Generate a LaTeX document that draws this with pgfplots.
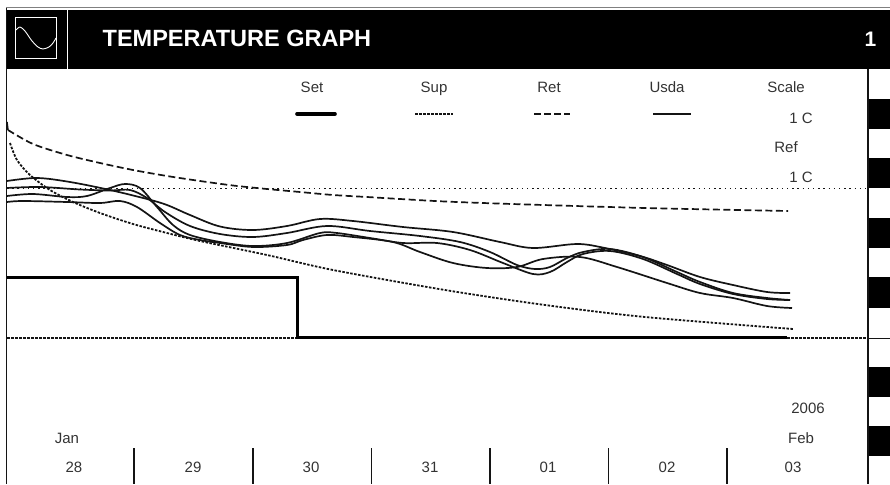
\documentclass[border=0pt]{standalone}
\usepackage{fontspec}
\setmainfont{Liberation Sans}
\usepackage{pgfplots}
\pgfplotsset{compat=1.18}
\definecolor{ink}{gray}{0.08}
\definecolor{txt}{gray}{0.2}
\newcommand{\lab}[3]{\node[text=txt,font=\fontsize{15}{17}\selectfont,anchor=base,inner sep=0pt] at (axis cs:#1,#2) {#3};}
\begin{document}
\begin{tikzpicture}
\path[use as bounding box] (0,0) rectangle (890pt,484pt);
\begin{axis}[
  at={(0,0)}, anchor=south west,
  scale only axis, width=890pt, height=484pt,
  xmin=0, xmax=890, ymin=0, ymax=484, y dir=reverse,
  enlargelimits=false, axis lines=none, ticks=none, clip=true]
% header
\addplot[fill=black,draw=none] coordinates {(7,10)(890,10)(890,69)(7,69)} --cycle;
\addplot[gray,line width=1pt] coordinates {(6,8)(890,8)};
% right stripes
\addplot[fill=black,draw=none] coordinates {(868,99)(890,99)(890,129)(868,129)} --cycle;
\addplot[fill=black,draw=none] coordinates {(868,158)(890,158)(890,188)(868,188)} --cycle;
\addplot[fill=black,draw=none] coordinates {(868,218)(890,218)(890,248)(868,248)} --cycle;
\addplot[fill=black,draw=none] coordinates {(868,277)(890,277)(890,308)(868,308)} --cycle;
\addplot[fill=black,draw=none] coordinates {(868,367)(890,367)(890,397)(868,397)} --cycle;
\addplot[fill=black,draw=none] coordinates {(868,426)(890,426)(890,456)(868,456)} --cycle;
\addplot[ink,line width=1.2pt] coordinates {(868,69)(868,484)};
\addplot[ink,line width=0.8pt] coordinates {(868,338)(890,338)};
% frame
\addplot[ink,line width=1.5pt] coordinates {(6.5,8)(6.5,484)};
% icon
\addplot[white,line width=1pt] coordinates {(15.5,18)(56.5,18)(56.5,58.5)(15.5,58.5)} --cycle;
\addplot[white,line width=1pt] coordinates {(67.5,10)(67.5,69)};
\addplot[white,line width=0.9pt,smooth] coordinates {(16,30)(20,27)(25,31)(32,41)(38,47)(43,49)(49,47)(53,43)(56,38)};
% reference lines
\addplot[ink,line width=1.3pt,dash pattern=on 1.3pt off 3.9pt] coordinates {(7,188.5)(868,188.5)};
\addplot[ink,line width=1.4pt,dash pattern=on 2.5pt off 1.5pt] coordinates {(7,338)(297,338)};
\addplot[ink,line width=1.4pt,dash pattern=on 2.5pt off 1.5pt] coordinates {(787,338)(868,338)};
% Set
\addplot[black,line width=3.2pt,line join=miter] coordinates {(7,277.5)(297.5,277.5)(297.5,337.5)(787,337.5)};
% Ret
\addplot[ink,line width=1.7pt,dash pattern=on 7pt off 3.5pt,smooth,tension=0.5] coordinates {(8,130)(33,144)(67,155)(100,163)(133,170)(167,176)(200,181)(233,185.5)(267,189)(300,192)(333,195)(367,197)(400,199)(445,201.5)(512,204)(645,208)(788,211)};
% Sup
\addplot[ink,line width=1.8pt,dash pattern=on 2.5pt off 1.5pt,smooth,tension=0.5] coordinates {(10,143)(17,160)(30,175)(50,190)(73,202)(100,213)(133,224)(167,233)(200,241)(267,255)(333,270)(445,290)(545,305)(645,317)(793,329)};
\addplot[ink,line width=1.5pt] coordinates {(7,122)(8,130)};
% Usda curves
\addplot[ink,line width=1.7pt,smooth,tension=0.55] coordinates {(7,181)(37,178)(70,182)(110,190)(147,199)(167,205)(190,215)(220,226.5)(253,230)(287,226)(320,219)(353,221)(403,227)(453,232)(500,242)(533,248)(577,244)(605,248)(640,256)(667,265)(700,277)(733,285)(767,292)(790,293)};
\addplot[ink,line width=1.7pt,smooth,tension=0.55] coordinates {(7,188)(40,187)(80,189.5)(110,190.5)(130,190)(147,198)(165,212)(190,226)(220,234)(253,237)(287,233)(327,226)(370,231)(420,236)(460,242)(490,252)(517,265)(535,269)(550,267)(567,258)(583,252)(610,249)(643,257)(677,272)(700,282)(733,293)(767,298)(790,300)};
\addplot[ink,line width=1.7pt,smooth,tension=0.55] coordinates {(7,196)(33,194)(67,197)(87,196)(110,188)(125,184)(140,188)(157,207)(173,225)(190,235)(220,242)(253,246)(287,243)(320,233)(337,233)(370,238)(403,243)(437,243)(470,250)(503,263)(533,274)(550,272)(567,262)(583,254)(610,251)(643,259)(677,274)(700,284)(733,294)(767,299)(790,300)};
\addplot[ink,line width=1.7pt,smooth,tension=0.55] coordinates {(7,202)(23,201)(67,202)(100,203)(120,201)(137,207)(160,223)(180,235)(200,240)(220,243)(253,247)(287,245)(303,240)(327,235)(353,237)(393,242)(420,252)(453,263)(487,268)(517,267)(543,259)(580,257)(617,267)(667,283)(700,293)(733,298)(767,306)(792,308)};
% legend samples
\addplot[black,line width=3.6pt,line cap=round] coordinates {(297,114)(335,114)};
\addplot[ink,line width=1.5pt,dash pattern=on 2.5pt off 1.5pt] coordinates {(415,114)(453,114)};
\addplot[ink,line width=1.5pt,dash pattern=on 7pt off 3pt] coordinates {(534,114)(570,114)};
\addplot[ink,line width=1.6pt] coordinates {(653,114)(691,114)};
% day separators
\addplot[ink,line width=1.3pt] coordinates {(134,448)(134,484)};
\addplot[ink,line width=1.3pt] coordinates {(253,448)(253,484)};
\addplot[ink,line width=1.3pt] coordinates {(371.5,448)(371.5,484)};
\addplot[ink,line width=1.3pt] coordinates {(490,448)(490,484)};
\addplot[ink,line width=1.3pt] coordinates {(608.5,448)(608.5,484)};
\addplot[ink,line width=1.3pt] coordinates {(727,448)(727,484)};
% text
\node[text=white,font=\fontsize{23.5}{26}\bfseries\selectfont,anchor=west,inner sep=0pt] at (axis cs:102.5,38) {TEMPERATURE GRAPH};
\node[text=white,font=\fontsize{21}{24}\bfseries\selectfont,anchor=center,inner sep=0pt] at (axis cs:870.5,39.5) {1};
\lab{312}{92.5}{Set}
\lab{434}{92.5}{Sup}
\lab{549}{92.5}{Ret}
\lab{667}{92.5}{Usda}
\lab{786}{92.5}{Scale}
\lab{801}{123}{1 C}
\lab{786}{152.5}{Ref}
\lab{801}{182.5}{1 C}
\lab{808}{413.5}{2006}
\lab{67}{443.5}{Jan}
\lab{801}{443.5}{Feb}
\lab{74}{472.5}{28}
\lab{193}{472.5}{29}
\lab{311}{472.5}{30}
\lab{430}{472.5}{31}
\lab{548}{472.5}{01}
\lab{667}{472.5}{02}
\lab{793}{472.5}{03}
\end{axis}
\end{tikzpicture}
\end{document}
